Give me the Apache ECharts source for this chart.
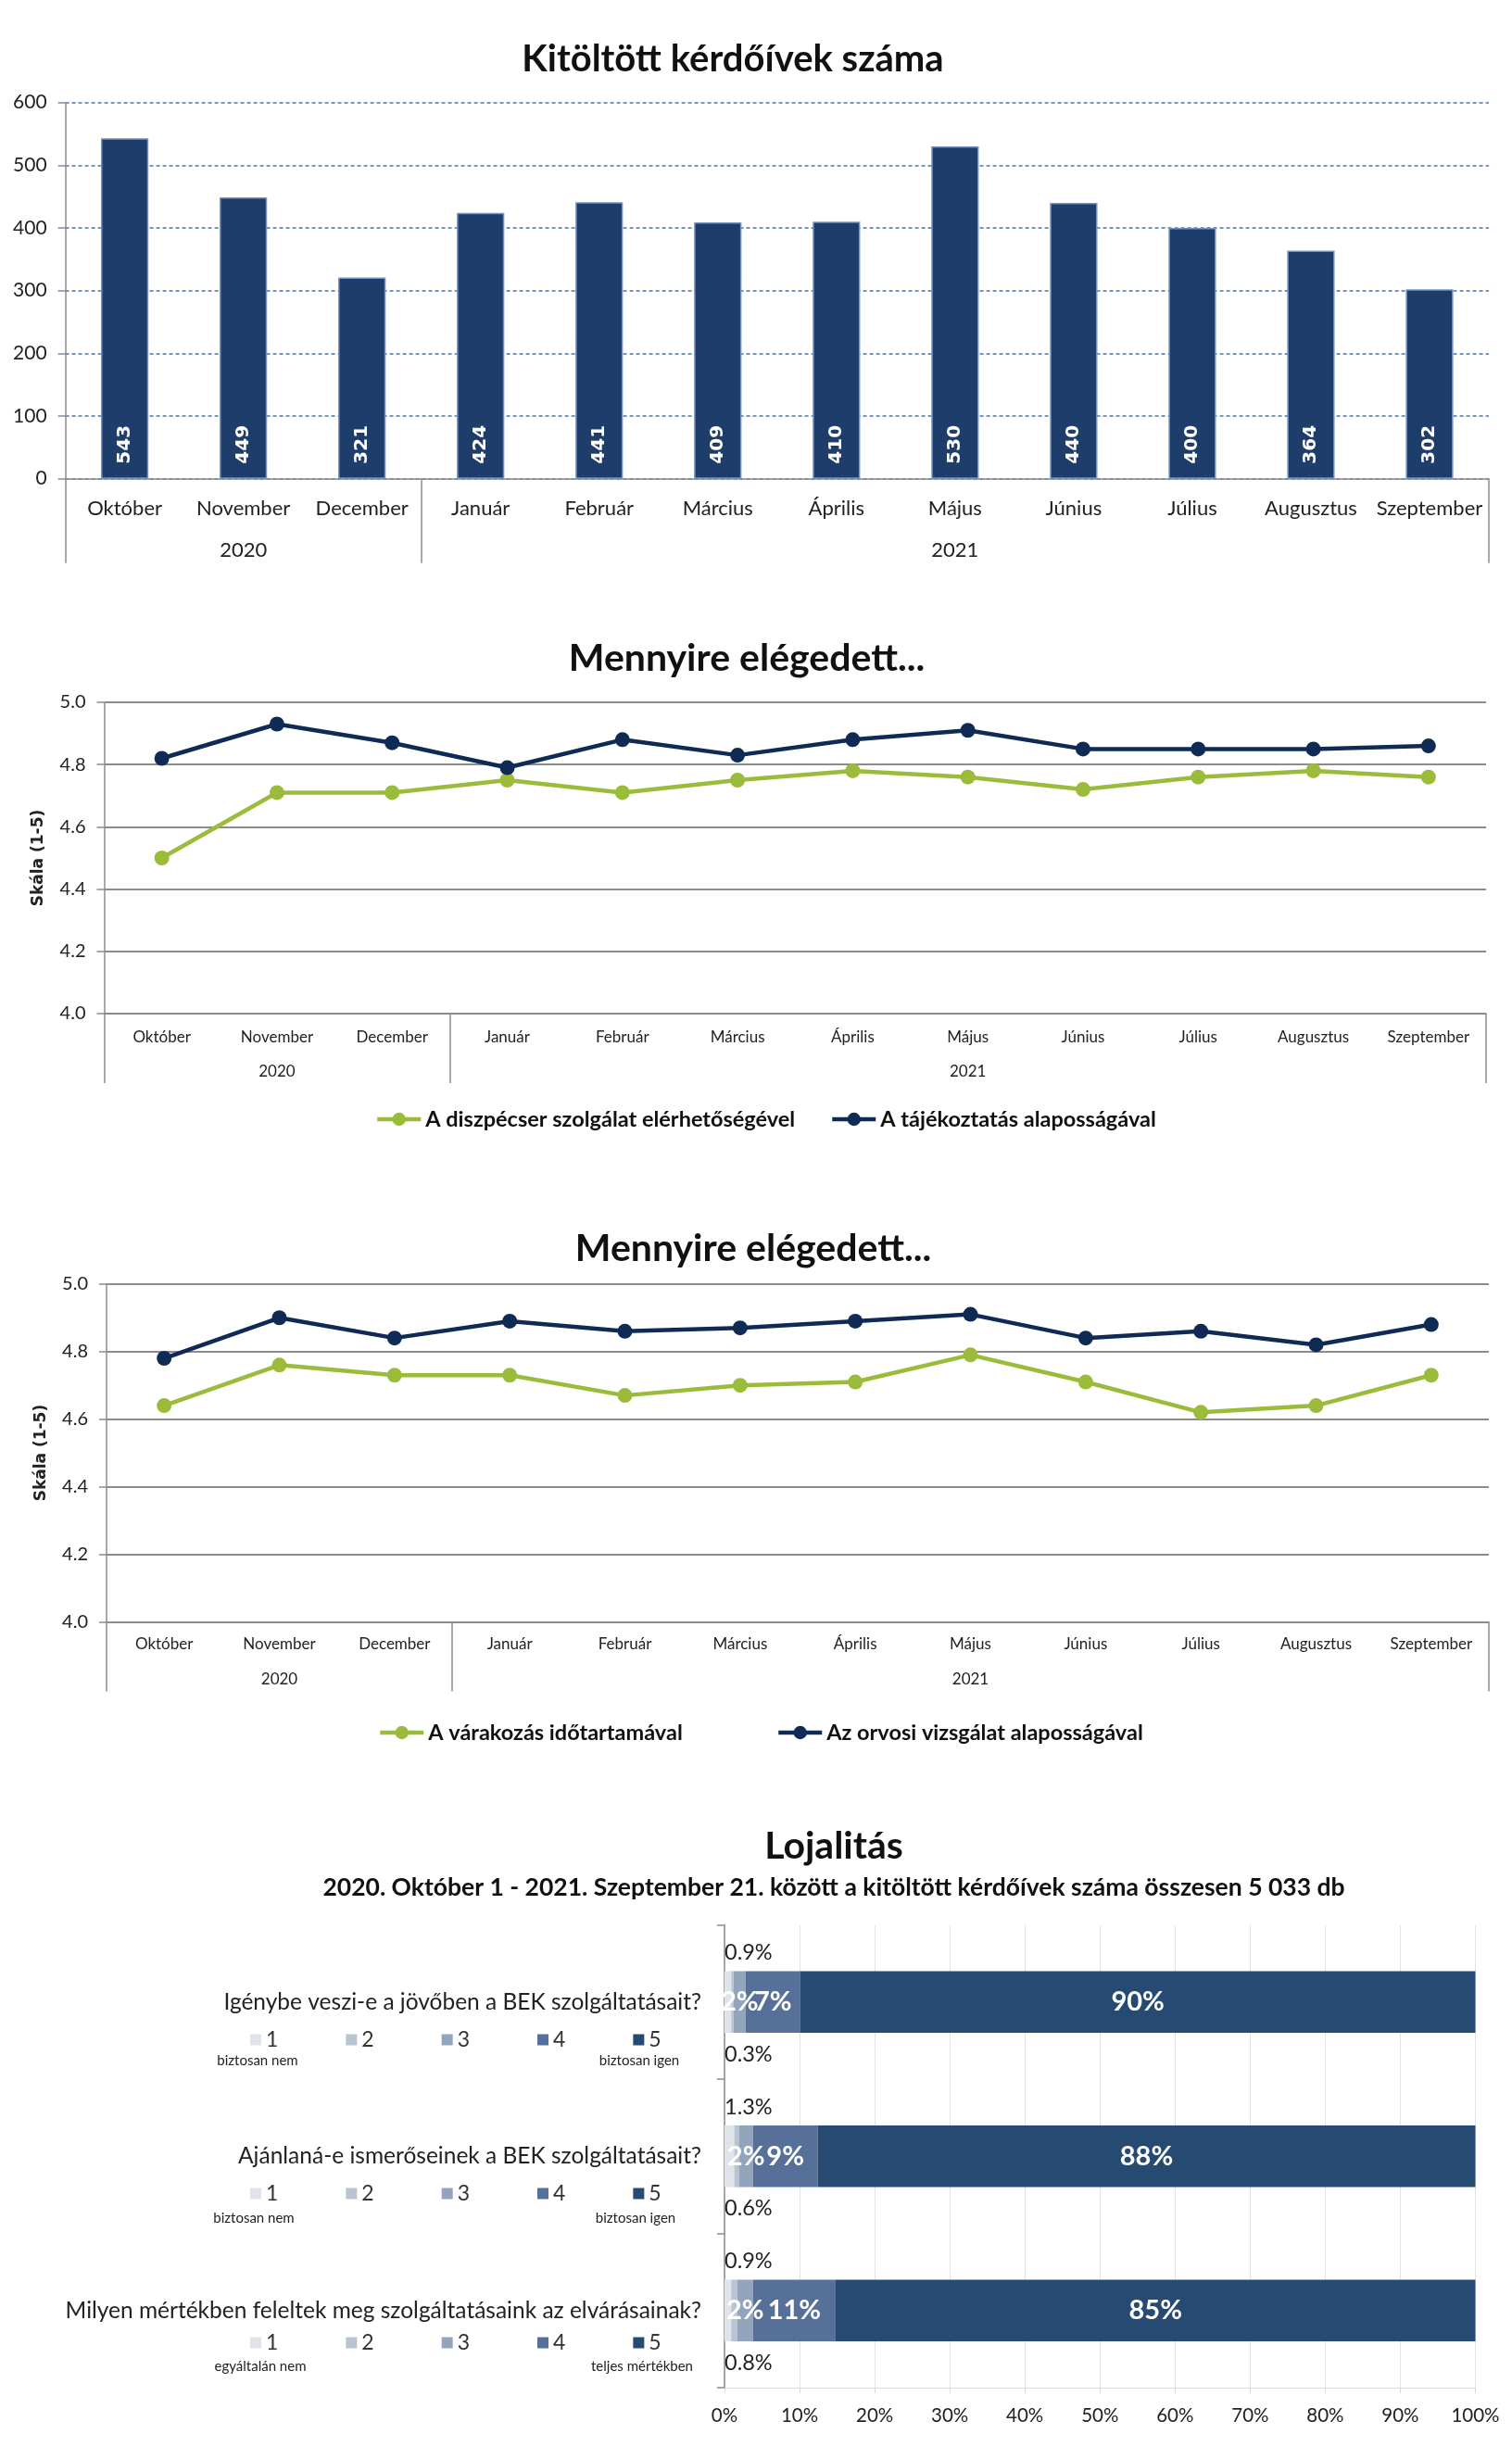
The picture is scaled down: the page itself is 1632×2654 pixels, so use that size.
<!DOCTYPE html>
<html>
<head>
<meta charset="utf-8">
<script src="https://cdn.jsdelivr.net/npm/echarts@6/dist/echarts.min.js"></script>
<style>
html,body{margin:0;padding:0;background:#fff;}
#main{width:1632px;height:2654px;}
</style>
</head>
<body>
<div id="main"></div>
<script>
// ---------- DATA ----------
const months = ['Október','November','December','Január','Február','Március','Április','Május','Június','Július','Augusztus','Szeptember'];
const years = ['2020','2021'];
const yearSpans = [3, 9];

const kerdoivek = [543,449,321,424,441,409,410,530,440,400,364,302];
const barTicks = [0,100,200,300,400,500,600];

const dispecser = [4.50,4.71,4.71,4.75,4.71,4.75,4.78,4.76,4.72,4.76,4.78,4.76];
const tajekoztatas = [4.82,4.93,4.87,4.79,4.88,4.83,4.88,4.91,4.85,4.85,4.85,4.86];
const varakozas = [4.64,4.76,4.73,4.73,4.67,4.70,4.71,4.79,4.71,4.62,4.64,4.73];
const orvosi = [4.78,4.90,4.84,4.89,4.86,4.87,4.89,4.91,4.84,4.86,4.82,4.88];

const questions = [
  'Igénybe veszi-e a jövőben a BEK szolgáltatásait?',
  'Ajánlaná-e ismerőseinek a BEK szolgáltatásait?',
  'Milyen mértékben feleltek meg szolgáltatásaink az elvárásainak?'
];
const scaleNames = ['1','2','3','4','5'];
const score1 = [0.9, 1.3, 0.9];
const score2 = [0.3, 0.6, 0.8];
const score3 = [1.6, 1.9, 2.1];
const score4 = [7.3, 8.6, 11.0];
const score5 = [89.9, 87.6, 85.2];
const scaleEnds = [
  ['biztosan nem','biztosan igen'],
  ['biztosan nem','biztosan igen'],
  ['egyáltalán nem','teljes mértékben']
];

const titles = ['Kitöltött kérdőívek száma','Mennyire elégedett...','Mennyire elégedett...','Lojalitás'];
const subtitle = '2020. Október 1 - 2021. Szeptember 21. között a kitöltött kérdőívek száma összesen 5 033 db';

// ---------- STYLE ----------
const FONT = 'Lato';
const NAVY = '#0f2a55';
const GREEN = '#9bbb3b';
const segColors = ['#dfe3ea','#b9c3d1','#93a5bd','#56709a','#274a73'];
const GRAY = '#8c8c8c';

const yearBounds = [0];
yearSpans.forEach(s => yearBounds.push(yearBounds[yearBounds.length-1] + s));
const yearMids = yearSpans.map((s,i) => yearBounds[i] + s/2);
const yearLabel = v => { for (let i=0;i<yearSpans.length;i++) if (v < yearBounds[i+1]) return years[i]; return ''; };

function monthAxis(grid, tickLen, fs, margin){
  return {
    type:'category', gridIndex:grid, data:months, position:'bottom',
    axisLine:{lineStyle:{color:GRAY,width:1.5}},
    axisTick:{length:tickLen,lineStyle:{color:GRAY,width:1.5}},
    axisLabel:{interval:0,fontSize:fs,color:'#222',margin:margin,fontFamily:FONT},
    splitLine:{show:false}
  };
}
function yearAxis(grid, tickLen, fs, margin){
  return {
    type:'value', gridIndex:grid, min:0, max:12, position:'bottom', offset:0,
    axisLine:{show:false},
    axisTick:{show:true,length:tickLen,customValues:yearBounds,lineStyle:{color:GRAY,width:1.5}},
    axisLabel:{show:true,customValues:yearMids,formatter:yearLabel,fontSize:fs,color:'#222',margin:margin,fontFamily:FONT},
    splitLine:{show:false}
  };
}
function scoreAxis(grid){
  return {
    type:'value', gridIndex:grid, min:4, max:5, interval:0.2,
    name:'Skála (1-5)', nameLocation:'middle', nameRotate:90, nameGap:62,
    nameTextStyle:{fontFamily:'DejaVu Sans',fontWeight:'bold',fontSize:17,color:'#222'},
    axisLine:{show:true,lineStyle:{color:GRAY,width:1.5}},
    axisTick:{show:true,length:8,lineStyle:{color:GRAY,width:1.5}},
    axisLabel:{formatter:v=>v.toFixed(1),fontSize:20,color:'#222',margin:20,fontFamily:FONT},
    splitLine:{show:true,lineStyle:{color:GRAY,width:2}}
  };
}
function lineSeries(name, data, color, xi, yi){
  return {
    type:'line', name:name, data:data, xAxisIndex:xi, yAxisIndex:yi,
    symbol:'circle', symbolSize:16, lineStyle:{width:4.5,color:color},
    itemStyle:{color:color}, emphasis:{disabled:true}
  };
}
function lineLegend(name, left, top){
  return {
    data:[name], left:left, top:top, padding:0, itemWidth:47, itemHeight:18,
    selectedMode:false, lineStyle:{width:4.5},
    textStyle:{fontFamily:FONT,fontWeight:'bold',fontSize:23.5,color:'#111',lineHeight:26}
  };
}

const graphics = [];
function addText(text, x, y, fs, weight, align){
  graphics.push({type:'text', x:x, y:y, style:{text:text, font: weight+' '+fs+'px '+FONT, fill:'#111', textAlign:align||'center', textVerticalAlign:'middle'}});
}
addText(titles[0], 791, 64, 40, 'bold');
addText(titles[1], 806, 711, 41, 'bold');
addText(titles[2], 813, 1348, 41, 'bold');
addText(titles[3], 900, 1993, 41, 'bold');
addText(subtitle, 900, 2037, 26.5, 'bold');

const endY = [2224, 2394, 2554];
const endX = [[278,690],[274,686],[281,693]];
scaleEnds.forEach((pair,i)=>{
  graphics.push({type:'text', x:endX[i][0], y:endY[i], style:{text:pair[0], font:'normal 15px '+FONT, fill:'#222', textAlign:'center', textVerticalAlign:'middle'}});
  graphics.push({type:'text', x:endX[i][1], y:endY[i], style:{text:pair[1], font:'normal 15px '+FONT, fill:'#222', textAlign:'center', textVerticalAlign:'middle'}});
});

const legendRows = [2201, 2367, 2528];
const scaleLegends = legendRows.map(y => ({
  data:scaleNames, left:270, top:y-11, padding:0, icon:'rect', itemWidth:12, itemHeight:12,
  itemGap:73, selectedMode:false,
  textStyle:{fontFamily:FONT,fontSize:23,color:'#333',lineHeight:22}
}));

const scores = [score1, score2, score3, score4, score5];
const loyaltySeries = scores.map((arr, k) => {
  let label, labelLayout;
  if (k === 0) {
    label = {show:true, position:[0,-20], align:'left', verticalAlign:'middle', color:'#222', fontSize:23.5, fontFamily:FONT,
             formatter:p=>p.value.toFixed(1)+'%'};
  } else if (k === 1) {
    label = {show:true, position:[0,'100%'], offset:[0,23], align:'left', verticalAlign:'middle', color:'#222', fontSize:23.5, fontFamily:FONT,
             formatter:p=>p.value.toFixed(1)+'%'};
    // align the lower label with the start of the stacked bar (shift back by the width of segment 1)
    labelLayout = p => ({x: p.rect.x - p.rect.width * score1[p.dataIndex] / score2[p.dataIndex], align:'left'});
  } else {
    label = {show:true, position:'inside', color:'#fff', fontWeight:'bold', fontSize:29, fontFamily:FONT,
             formatter:p=>Math.round(p.value)+'%'};
  }
  const s = {
    type:'bar', name:scaleNames[k], data:arr, stack:'loy', xAxisIndex:4, yAxisIndex:3,
    barCategoryGap:'60%', itemStyle:{color:segColors[k]}, label:label, emphasis:{disabled:true}
  };
  if (labelLayout) s.labelLayout = labelLayout;
  return s;
});

const option = {
  animation:false,
  backgroundColor:'#fff',
  textStyle:{fontFamily:FONT},
  grid:[
    {left:70.6, top:110.7, width:1536.4, height:406},
    {left:112.5, top:758, width:1491.5, height:336},
    {left:115, top:1385.8, width:1492, height:364.6},
    {left:782, top:2077.5, width:810.5, height:499.5}
  ],
  xAxis:[
    monthAxis(0, 45, 22, 21),
    yearAxis(0, 91, 22, 66),
    monthAxis(1, 38, 17, 17),
    yearAxis(1, 75, 17, 54),
    {
      type:'value', gridIndex:3, min:0, max:100, interval:10,
      axisLine:{show:true,lineStyle:{color:'#d9d9d9'}},
      axisTick:{show:true,length:6,lineStyle:{color:'#d9d9d9'}},
      axisLabel:{formatter:'{value}%',fontSize:20.5,color:'#222',margin:20,fontFamily:FONT},
      splitLine:{show:true,lineStyle:{color:'#e3e3e3',width:1}}
    },
    monthAxis(2, 38, 17, 16),
    yearAxis(2, 75, 17, 54)
  ],
  yAxis:[
    {
      type:'value', gridIndex:0, min:barTicks[0], max:barTicks[barTicks.length-1], interval:100,
      axisLine:{show:true,lineStyle:{color:GRAY,width:1.5}},
      axisTick:{show:true,length:8,lineStyle:{color:GRAY,width:1.5}},
      axisLabel:{fontSize:21,color:'#222',margin:20,fontFamily:FONT},
      splitLine:{show:true,lineStyle:{color:'#4a74a8',width:1.5,type:[4,3]}}
    },
    scoreAxis(1),
    scoreAxis(2),
    {
      type:'category', gridIndex:3, data:questions, inverse:true,
      axisLine:{show:true,lineStyle:{color:GRAY,width:1.5}},
      axisTick:{show:true,length:8,lineStyle:{color:GRAY,width:1.5}},
      axisLabel:{fontSize:24.5,color:'#222',margin:25,fontFamily:FONT}
    }
  ],
  legend:[
    lineLegend('A diszpécser szolgálat elérhetőségével', 405, 1195),
    lineLegend('A tájékoztatás alaposságával', 896, 1195),
    lineLegend('A várakozás időtartamával', 408, 1857),
    lineLegend('Az orvosi vizsgálat alaposságával', 838, 1857)
  ].concat(scaleLegends),
  graphic:graphics,
  series:[
    {
      type:'bar', name:'Kitöltött kérdőívek', data:kerdoivek, xAxisIndex:0, yAxisIndex:0,
      barWidth:'40%',
      itemStyle:{color:'#1f3d6b', borderColor:'#6f93c4', borderWidth:1.5},
      label:{show:true, rotate:90, position:'insideBottom', align:'left', verticalAlign:'middle', distance:16,
             fontFamily:'DejaVu Sans', fontWeight:'bold', fontSize:20, color:'#fff'},
      emphasis:{disabled:true}
    },
    lineSeries('A diszpécser szolgálat elérhetőségével', dispecser, GREEN, 2, 1),
    lineSeries('A tájékoztatás alaposságával', tajekoztatas, NAVY, 2, 1),
    lineSeries('A várakozás időtartamával', varakozas, GREEN, 5, 2),
    lineSeries('Az orvosi vizsgálat alaposságával', orvosi, NAVY, 5, 2)
  ].concat(loyaltySeries)
};

const chart = echarts.init(document.getElementById('main'), null, {renderer:'canvas'});
chart.setOption(option);
</script>
</body>
</html>
